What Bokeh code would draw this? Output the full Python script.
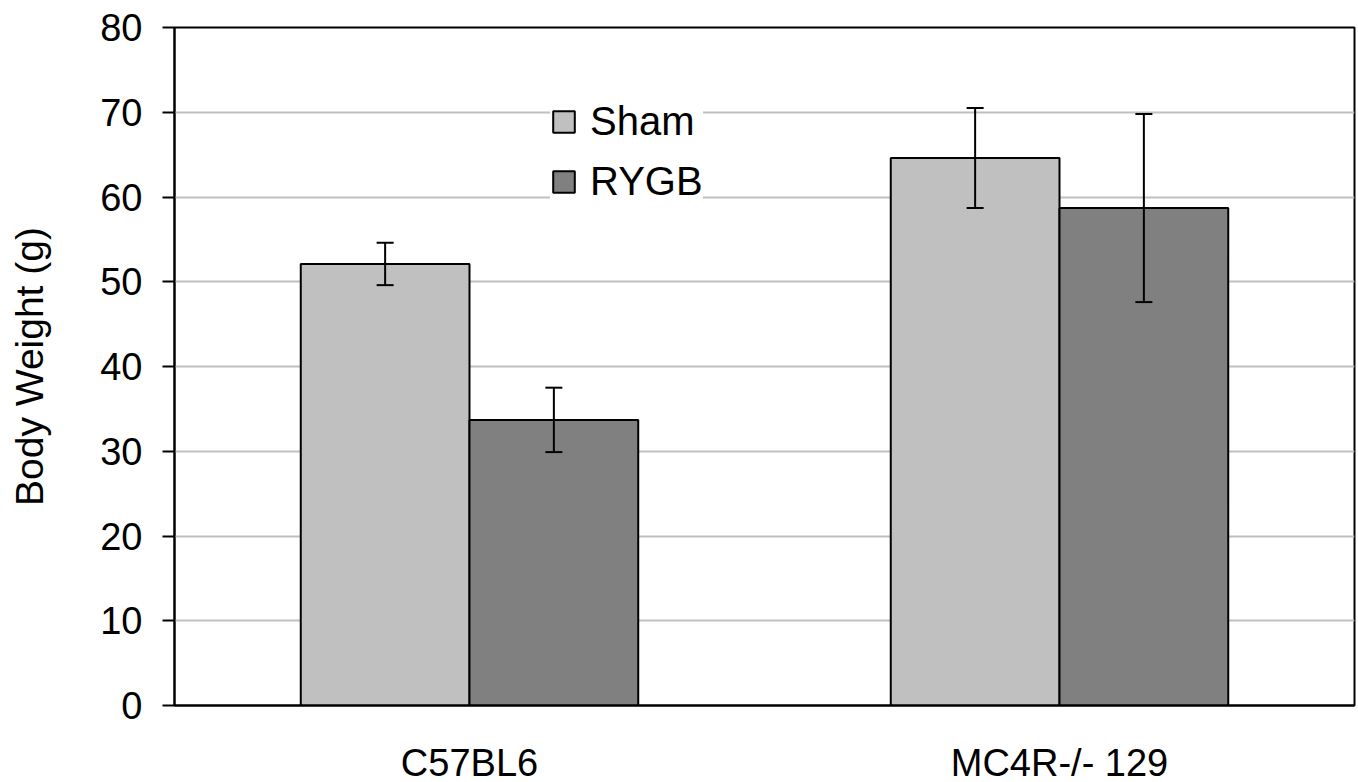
from bokeh.plotting import figure
from bokeh.models import (ColumnDataSource, FactorRange, Range1d, FixedTicker,
                          Whisker, Legend, LegendItem)
from bokeh.transform import dodge
from bokeh.embed import file_html
from bokeh.resources import INLINE

strains = ["C57BL6", "MC4R-/- 129"]
sham = [52.1, 64.6]
sham_err = [2.5, 5.9]
rygb = [33.7, 58.7]
rygb_err = [3.8, 11.1]
y_ticks = [0, 10, 20, 30, 40, 50, 60, 70, 80]

FONT = "Liberation Sans"

src = ColumnDataSource(dict(
    strain=strains,
    sham=sham,
    rygb=rygb,
    sham_lo=[v - e for v, e in zip(sham, sham_err)],
    sham_hi=[v + e for v, e in zip(sham, sham_err)],
    rygb_lo=[v - e for v, e in zip(rygb, rygb_err)],
    rygb_hi=[v + e for v, e in zip(rygb, rygb_err)],
))

p = figure(x_range=FactorRange(*strains, range_padding=0.0),
           y_range=Range1d(0, 80),
           frame_width=1180, frame_height=678,
           min_border_left=174, min_border_top=27, min_border_right=4,
           min_border_bottom=60,
           output_backend="svg", toolbar_location=None)

p.x_range.factor_padding = 0.0

off = 0.143
bw = 0.286
r1 = p.vbar(x=dodge("strain", -off, range=p.x_range), top="sham", width=bw,
            source=src, fill_color="#c0c0c0", line_color="black", line_width=2)
r2 = p.vbar(x=dodge("strain", off, range=p.x_range), top="rygb", width=bw,
            source=src, fill_color="#808080", line_color="black", line_width=2)

for base, lo, hi in [(-off, "sham_lo", "sham_hi"), (off, "rygb_lo", "rygb_hi")]:
    w = Whisker(base=dodge("strain", base, range=p.x_range), lower=lo, upper=hi,
                source=src, line_color="black", line_width=2, level="overlay")
    w.upper_head.size = 17
    w.lower_head.size = 17
    w.upper_head.line_width = 2
    w.lower_head.line_width = 2
    p.add_layout(w)

legend = Legend(items=[LegendItem(label="Sham", renderers=[r1]),
                       LegendItem(label="RYGB", renderers=[r2])],
                location=(376, 501),
                label_text_font=FONT, label_text_font_size="40px",
                label_text_color="black",
                glyph_width=27, glyph_height=27, spacing=15,
                label_standoff=13, padding=17, margin=0,
                background_fill_color="white", background_fill_alpha=1.0,
                border_line_color=None)
p.add_layout(legend, "center")

p.outline_line_color = "black"
p.outline_line_width = 2

p.xgrid.grid_line_color = None
p.ygrid.grid_line_color = "#c0c0c0"
p.ygrid.grid_line_width = 2

p.yaxis.ticker = FixedTicker(ticks=y_ticks)
p.yaxis.axis_label = "Body Weight (g)"
p.yaxis.axis_label_text_font = FONT
p.yaxis.axis_label_text_font_size = "39px"
p.yaxis.axis_label_text_font_style = "normal"
p.yaxis.axis_label_text_color = "black"
p.yaxis.axis_label_standoff = 46
p.yaxis.major_label_text_font = FONT
p.yaxis.major_label_text_font_size = "38px"
p.yaxis.major_label_text_color = "black"
p.yaxis.major_label_standoff = 20
p.yaxis.major_tick_out = 12
p.yaxis.major_tick_in = 0
p.yaxis.minor_tick_line_color = None
p.yaxis.major_tick_line_width = 2
p.yaxis.axis_line_width = 2
p.yaxis.axis_line_color = "black"

p.xaxis.major_tick_line_color = None
p.xaxis.minor_tick_line_color = None
p.xaxis.axis_line_width = 2
p.xaxis.axis_line_color = "black"
p.xaxis.major_label_text_font = FONT
p.xaxis.major_label_text_font_size = "38px"
p.xaxis.major_label_text_color = "black"
p.xaxis.major_label_standoff = 30

open("out.html", "w").write(file_html(p, INLINE))
